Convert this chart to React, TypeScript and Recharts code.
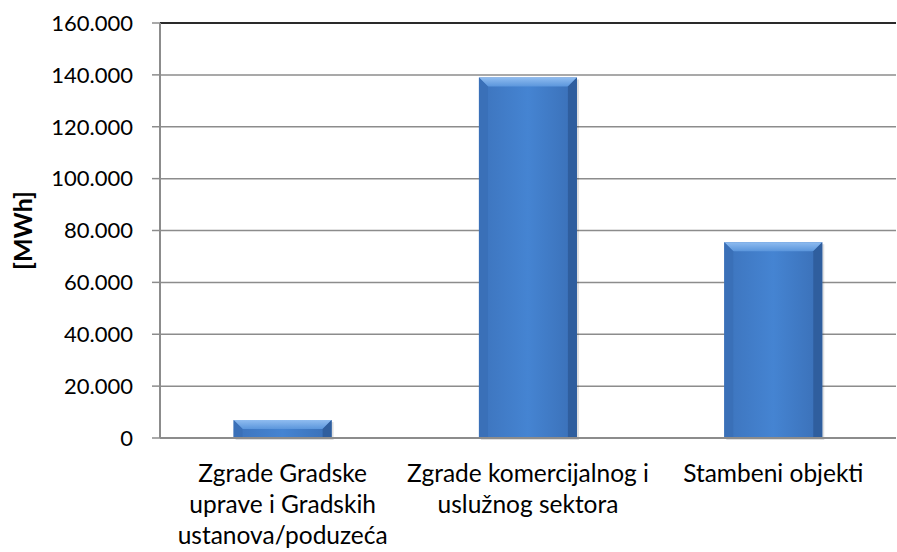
import React from 'react';
import { BarChart, Bar, XAxis, YAxis, CartesianGrid, ReferenceLine } from 'recharts';

const categories = [
  'Zgrade Gradske\nuprave i Gradskih\nustanova/poduzeća',
  'Zgrade komercijalnog i\nuslužnog sektora',
  'Stambeni objekti',
];
const values = [6900, 139000, 75500];
const yTicks = [0, 20000, 40000, 60000, 80000, 100000, 120000, 140000, 160000];
const boundaryTicks = [0, 1, 2, 3];

const data = categories.map((name, i) => ({ name, value: values[i], pos: i + 0.5 }));

const FONT = 'Lato, "Open Sans", sans-serif';

function fmt(v: number) {
  if (v === 0) return '0';
  return `${Math.floor(v / 1000)}.${String(v % 1000).padStart(3, '0')}`;
}

function BevelBar(props: any) {
  const { x, y, width, height } = props;
  if (!height || height <= 0) return null;
  const b = Math.min(9, height / 2, width / 2);
  return (
    <g>
      <rect x={x + 2} y={y + 2} width={width} height={height} fill="#000" opacity={0.12} />
      <rect x={x} y={y} width={width} height={height} fill="url(#barFace)" />
      {/* top bevel */}
      <polygon points={`${x},${y} ${x + width},${y} ${x + width - b},${y + b} ${x + b},${y + b}`} fill="url(#barTop)" />
      {/* side bevels */}
      <polygon points={`${x},${y} ${x + b},${y + b} ${x + b},${y + height} ${x},${y + height}`} fill="#3a70b8" />
      <polygon points={`${x + width},${y} ${x + width - b},${y + b} ${x + width - b},${y + height} ${x + width},${y + height}`} fill="#2f5e9e" />
    </g>
  );
}

function CategoryTick(props: any) {
  const { x, y, payload } = props;
  const lines = String(payload.value).split('\n');
  return (
    <g>
      {lines.map((ln, i) => (
        <text key={i} x={x} y={y + 36 + i * 31} textAnchor="middle" fontFamily={FONT} fontSize={24.5} fill="#000">
          {ln}
        </text>
      ))}
    </g>
  );
}

function YLabel(props: any) {
  const { viewBox } = props;
  const cx = viewBox.x + 22;
  const cy = viewBox.y + viewBox.height / 2;
  return (
    <text x={cx} y={cy} transform={`rotate(-90 ${cx} ${cy})`} textAnchor="middle" dominantBaseline="central" fontFamily={FONT} fontSize={25} fontWeight="bold" fill="#000">
      [MWh]
    </text>
  );
}

export default function App() {
  return (
    <div style={{ position: 'absolute', left: 0, top: 0, width: 897, height: 552, background: '#fff' }}>
      <BarChart width={897} height={552} data={data} margin={{ top: 23, right: 1, bottom: 0, left: 0 }} barCategoryGap="30%">
        <defs>
          <linearGradient id="barFace" x1="0" y1="0" x2="1" y2="0">
            <stop offset="0%" stopColor="#3d74bd" />
            <stop offset="50%" stopColor="#4584d2" />
            <stop offset="100%" stopColor="#3a6fb6" />
          </linearGradient>
          <linearGradient id="barTop" x1="0" y1="0" x2="0" y2="1">
            <stop offset="0%" stopColor="#8fbcf0" />
            <stop offset="100%" stopColor="#5b96dc" />
          </linearGradient>
        </defs>
        <CartesianGrid vertical={false} stroke="#8c8c8c" strokeWidth={1.5} />
        <XAxis
          dataKey="name"
          interval={0}
          height={114}
          axisLine={{ stroke: '#8c8c8c', strokeWidth: 2 }}
          tickLine={false}
          tick={<CategoryTick />}
        />
        <XAxis
          xAxisId="b"
          type="number"
          dataKey="pos"
          domain={[0, 3]}
          ticks={boundaryTicks}
          height={0}
          axisLine={false}
          tickLine={{ stroke: '#8c8c8c', strokeWidth: 1.5 }}
          tickSize={8}
          tick={false}
          orientation="bottom"
        />
        <YAxis
          width={160}
          domain={[0, 160000]}
          ticks={yTicks}
          interval={0}
          tickFormatter={fmt}
          axisLine={{ stroke: '#8c8c8c', strokeWidth: 2 }}
          tickLine={{ stroke: '#8c8c8c', strokeWidth: 1.5 }}
          tickSize={8}
          tickMargin={19}
          tick={{ fontFamily: FONT, fontSize: 22, fill: '#000' }}
          label={<YLabel />}
        />
        <ReferenceLine y={160000} stroke="#000" strokeWidth={1.5} />
        <Bar dataKey="value" shape={<BevelBar />} isAnimationActive={false} />
      </BarChart>
    </div>
  );
}
